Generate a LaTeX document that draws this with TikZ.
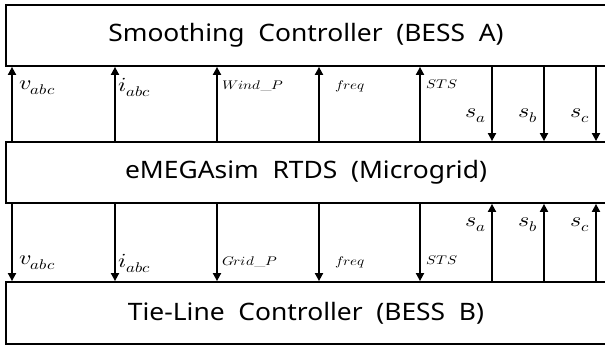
\documentclass[tikz,border=0pt]{standalone}
\usepackage{fontspec}
\usepackage{unicode-math}
\usepackage{graphicx}
\usetikzlibrary{arrows.meta,calc}
\setmathfont{Latin Modern Math}
\newfontfamily\blockfont[FakeStretch=1.1]{Noto Sans}
\newcommand{\wlab}[1]{\scalebox{1.2}[1]{$#1$}}

\begin{document}
\begin{tikzpicture}[x=1pt,y=-1pt,>={Triangle[width=8pt,length=8pt]},
  block/.style={draw,line width=1.8pt,minimum width=600pt,minimum height=61pt,
                inner sep=0pt,font=\blockfont\fontsize{24}{26}\selectfont},
  sig/.style={->,line width=1.8pt},
  lab/.style={inner sep=0pt,font=\fontsize{20}{20}\selectfont},
  slab/.style={inner sep=0pt,font=\fontsize{12.5}{12.5}\selectfont}]
  \useasboundingbox (0,0) rectangle (605,347);
  \clip (0,0) rectangle (605,347);

  % the three blocks
  \node[block] (smooth) at (306,35.5) {Smoothing\ \ Controller\ \ (BESS\ \ A)};
  \node[block] (rtds) at (306,172.5) {eMEGAsim\ \ RTDS\ \ (Microgrid)};
  \node[block,minimum height=62pt] (tieline) at (306,313) {Tie-Line\ \ Controller\ \ (BESS\ \ B)};

  % signal columns
  \foreach \x/\n in {12/1,115/2,217/3,319/4,420/5,492/6,544/7,596/8}
    \coordinate (c\n) at (\x,0);

  % microgrid <-> smoothing controller
  \foreach \n in {1,...,5}
    \draw[sig] (c\n |- rtds.north) -- (c\n |- smooth.south);
  \foreach \n in {6,7,8}
    \draw[sig] (c\n |- smooth.south) -- (c\n |- rtds.north);

  % microgrid <-> tie-line controller
  \foreach \n in {1,...,5}
    \draw[sig] (c\n |- rtds.south) -- (c\n |- tieline.north);
  \foreach \n in {6,7,8}
    \draw[sig] (c\n |- tieline.north) -- (c\n |- rtds.south);

  % labels, upper part
  \node[lab,anchor=west] (uv) at (19,88) {\wlab{v_{abc}}};
  \node[lab,anchor=west] (ui) at (118,87) {\wlab{i_{abc}}};
  \node[slab,anchor=west] (uw) at (222,86) {\wlab{Wind\_P}};
  \node[slab,anchor=west] (uf) at (335,86) {\wlab{freq}};
  \node[slab,anchor=west] (us) at (426,84) {\wlab{STS}};
  \node[lab,anchor=east] (ua) at (486,116) {\wlab{s_a}};
  \node[lab,anchor=east] (ub) at (538,116) {\wlab{s_b}};
  \node[lab,anchor=east] (uc) at (590,116) {\wlab{s_c}};

  % labels, lower part
  \node[lab,anchor=west] (dv) at (19,263) {\wlab{v_{abc}}};
  \node[lab,anchor=west] (di) at (118,263) {\wlab{i_{abc}}};
  \node[slab,anchor=west] (dg) at (222,262) {\wlab{Grid\_P}};
  \node[slab,anchor=west] (df) at (335,262) {\wlab{freq}};
  \node[slab,anchor=west] (ds) at (426,260) {\wlab{STS}};
  \node[lab,anchor=east] (da) at (486,225) {\wlab{s_a}};
  \node[lab,anchor=east] (db) at (538,225) {\wlab{s_b}};
  \node[lab,anchor=east] (dc) at (590,225) {\wlab{s_c}};
\end{tikzpicture}
\end{document}
